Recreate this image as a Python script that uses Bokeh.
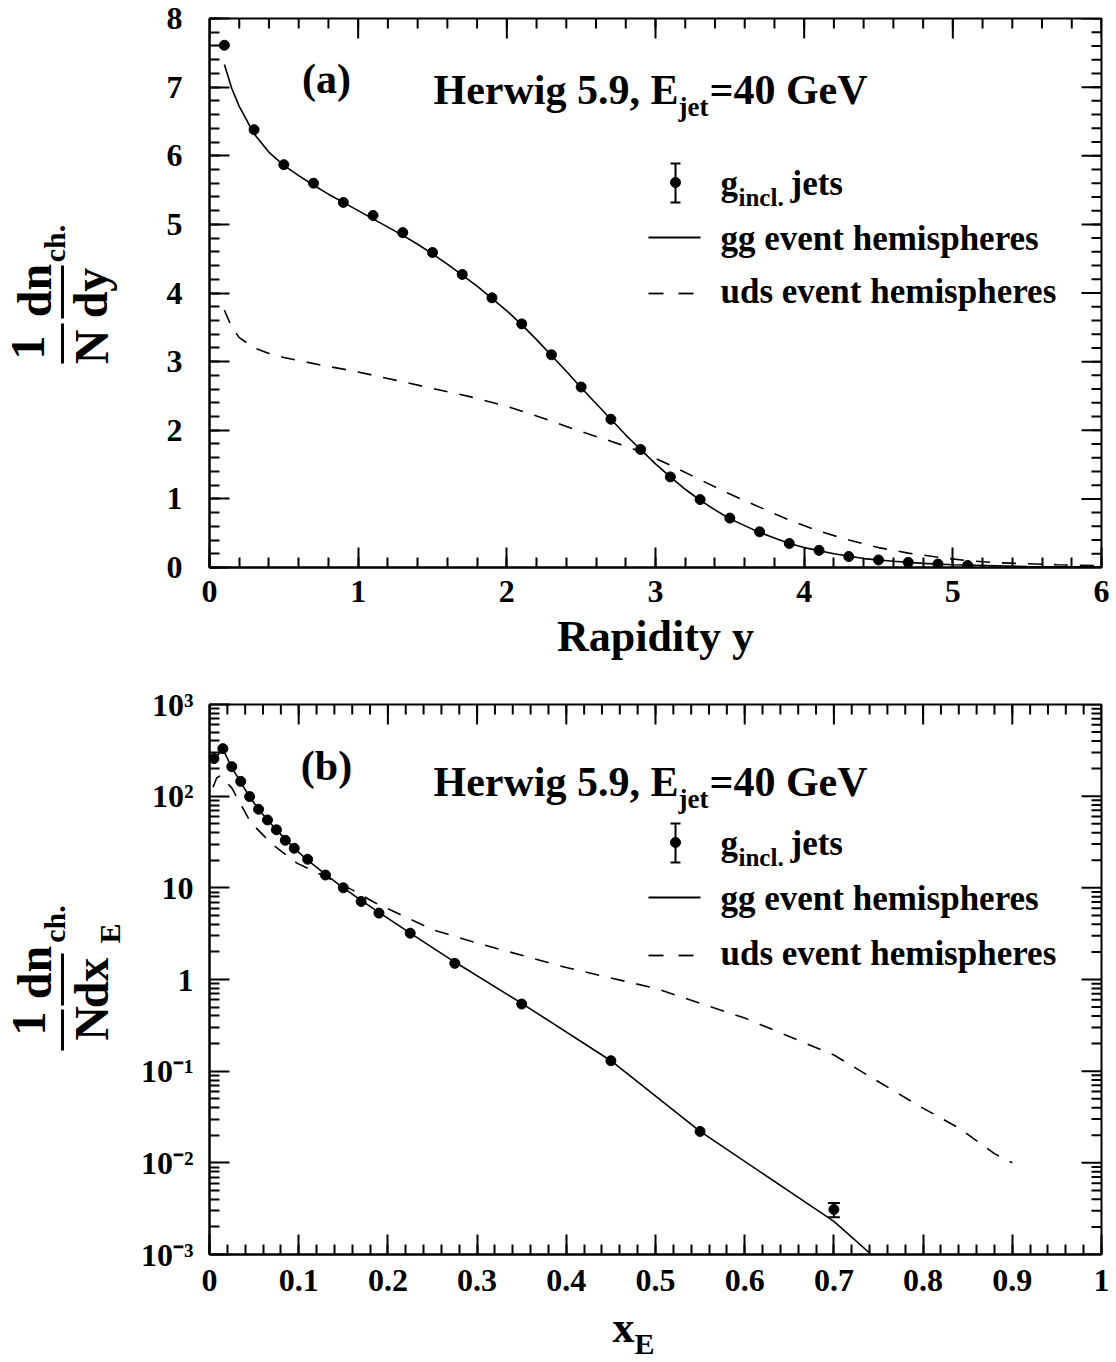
import math
from bokeh.plotting import figure
from bokeh.models import FixedTicker, Range1d, LinearScale, Label, Whisker, TeeHead, ColumnDataSource
from bokeh.core.properties import value
from bokeh.layouts import column, row
from bokeh.embed import file_html
from bokeh.resources import INLINE

FONT = "Liberation Serif"

# ---------------- panel (a): rapidity ----------------
rap_pts = [0.1, 0.3, 0.5, 0.7, 0.9, 1.1, 1.3, 1.5, 1.7, 1.9, 2.1, 2.3, 2.5,
           2.7, 2.9, 3.1, 3.3, 3.5, 3.7, 3.9, 4.1, 4.3, 4.5, 4.7, 4.9, 5.1]
gincl_rap = [7.61, 6.38, 5.87, 5.60, 5.32, 5.13, 4.88, 4.59, 4.27, 3.93, 3.55, 3.10, 2.63,
             2.16, 1.72, 1.32, 0.99, 0.72, 0.52, 0.35, 0.25, 0.16, 0.11, 0.075, 0.05, 0.03]

rap_gg = [0.1, 0.15, 0.2, 0.3, 0.4, 0.5, 0.6, 0.7, 0.8, 0.9, 1.0, 1.1, 1.2, 1.3, 1.4, 1.5,
          1.6, 1.7, 1.8, 1.9, 2.0, 2.1, 2.2, 2.3, 2.4, 2.5, 2.6, 2.7, 2.8, 2.9, 3.0, 3.1,
          3.2, 3.3, 3.4, 3.5, 3.6, 3.7, 3.8, 3.9, 4.0, 4.2, 4.4, 4.6, 4.8, 5.0, 5.5, 6.0]
gg_rap = [7.33, 6.98, 6.72, 6.32, 6.05, 5.86, 5.71, 5.57, 5.44, 5.32, 5.20, 5.08, 4.96, 4.84,
          4.71, 4.57, 4.42, 4.26, 4.10, 3.92, 3.74, 3.54, 3.32, 3.09, 2.86, 2.62, 2.39, 2.16,
          1.93, 1.72, 1.51, 1.32, 1.14, 0.98, 0.84, 0.71, 0.61, 0.51, 0.43, 0.35, 0.29, 0.20,
          0.13, 0.09, 0.06, 0.04, 0.015, 0.005]

rap_uds = [0.1, 0.15, 0.2, 0.3, 0.4, 0.5, 0.75, 1.0, 1.25, 1.5, 1.75, 2.0, 2.25, 2.5, 2.7,
           2.9, 3.1, 3.3, 3.5, 3.7, 3.9, 4.1, 4.3, 4.5, 4.7, 4.9, 5.1, 5.3, 5.5, 5.7, 6.0]
uds_rap = [3.75, 3.50, 3.35, 3.20, 3.12, 3.06, 2.95, 2.85, 2.73, 2.61, 2.49, 2.35, 2.17, 1.98,
           1.84, 1.69, 1.49, 1.28, 1.07, 0.88, 0.69, 0.53, 0.40, 0.29, 0.21, 0.15, 0.10, 0.07,
           0.055, 0.04, 0.025]

rap_xticks = [0, 1, 2, 3, 4, 5, 6]
rap_xminor = [round(i * 0.2, 1) for i in range(31)]
rap_yticks = [0, 1, 2, 3, 4, 5, 6, 7, 8]
rap_yminor = [round(i * 0.2, 1) for i in range(41)]

# ---------------- panel (b): x_E ----------------
xe_pts = [0.005, 0.015, 0.025, 0.035, 0.045, 0.055, 0.065, 0.075, 0.085, 0.095, 0.11,
          0.13, 0.15, 0.17, 0.19, 0.225, 0.275, 0.35, 0.45, 0.55, 0.70]
gincl_xe = [257, 330, 210, 145, 99, 72, 55, 43, 33, 27, 20.5,
            13.8, 10.0, 7.1, 5.3, 3.2, 1.5, 0.54, 0.13, 0.022, 0.0031]
gincl_xe_err = [0, 0, 0, 0, 0, 0, 0, 0, 0, 0, 0,
                0, 0, 0, 0, 0, 0, 0, 0, 0, 0.00055]

xe_gg = [0.005, 0.015, 0.025, 0.035, 0.045, 0.055, 0.065, 0.075, 0.085, 0.095, 0.11, 0.13,
         0.15, 0.17, 0.19, 0.225, 0.275, 0.35, 0.45, 0.55, 0.66, 0.70, 0.742]
gg_xe = [250, 325, 205, 142, 98, 72, 55, 43, 34, 27, 20, 14,
         10, 7.3, 5.4, 3.2, 1.55, 0.55, 0.13, 0.022, 0.0042, 0.0023, 0.001]

xe_uds = [0.004, 0.008, 0.012, 0.025, 0.046, 0.07, 0.098, 0.128, 0.16, 0.184, 0.25, 0.3,
          0.4, 0.5, 0.6, 0.7, 0.795, 0.84, 0.88, 0.9]
uds_xe = [125, 158, 167, 123, 52, 30, 18.6, 13.5, 9.5, 7.0, 3.5, 2.5,
          1.35, 0.8, 0.38, 0.15, 0.042, 0.024, 0.0126, 0.010]

xe_xticks = [0.0, 0.1, 0.2, 0.3, 0.4, 0.5, 0.6, 0.7, 0.8, 0.9, 1.0]
xe_xlabels = ["0", "0.1", "0.2", "0.3", "0.4", "0.5", "0.6", "0.7", "0.8", "0.9", "1"]
xe_xminor = [round(i * 0.02, 2) for i in range(51)]
xe_decades = [1e3, 1e2, 1e1, 1e0, 1e-1, 1e-2, 1e-3]
xe_dec_labels = ["10\u00b3", "10\u00b2", "10", "1", "10\u207b\u00b9", "10\u207b\u00b2", "10\u207b\u00b3"]
xe_yminor = [k * 10.0 ** d for d in range(-3, 3) for k in range(2, 10)]

legend_texts = ["g", "incl.", "jets", "gg event hemispheres", "uds event hemispheres"]
title_text = ["Herwig 5.9, E", "jet", "=40 GeV"]

FW, FH1, FH2 = 892, 549, 550
SW = 134          # width of the strip left of each panel
TOTAL_W = 1112


def style_axis(ax, size="32px", standoff=6):
    ax.axis_line_width = 2
    ax.axis_line_color = "black"
    ax.major_tick_in = 20
    ax.major_tick_out = 0
    ax.minor_tick_in = 10
    ax.minor_tick_out = 0
    ax.major_tick_line_width = 2
    ax.minor_tick_line_width = 2
    ax.major_tick_line_color = "black"
    ax.minor_tick_line_color = "black"
    ax.major_label_text_font = FONT
    ax.major_label_text_font_style = "bold"
    ax.major_label_text_color = "black"
    ax.major_label_text_font_size = size
    ax.major_label_standoff = standoff


def lab(p, text, x, y, size, align="left", baseline="middle", xr="default", yr="default"):
    p.add_layout(Label(x=x, y=y, text=text, x_range_name=xr, y_range_name=yr,
                       text_font=FONT, text_font_style="bold", text_font_size=f"{size}px",
                       text_align=align, text_baseline=baseline, text_color="black"))


def vtext(p, texts, xs, ys, size):
    # rotated (reading upward) text pieces of the y-axis titles
    p.text(x=xs, y=ys, text=texts, angle=math.pi / 2, text_align="center",
           text_baseline="middle", text_font=value(FONT), text_font_style="bold",
           text_font_size=f"{size}px", text_color="black")


def add_px(p, fh):
    p.extra_x_ranges = {"px": Range1d(0, FW)}
    p.extra_y_ranges = {"px": Range1d(0, fh)}
    p.extra_x_scales = {"px": LinearScale()}
    p.extra_y_scales = {"px": LinearScale()}


def mirror_ticks(p, xmaj, xmin, ymaj, ymin, xtop, yright):
    # inward ticks on the top and right frame edges
    p.ray(x=xmaj, y=[xtop] * len(xmaj), length=20, length_units="screen", angle=-math.pi / 2,
          line_width=2, line_color="black")
    p.ray(x=xmin, y=[xtop] * len(xmin), length=10, length_units="screen", angle=-math.pi / 2,
          line_width=2, line_color="black")
    p.ray(x=[yright] * len(ymaj), y=ymaj, length=20, length_units="screen", angle=math.pi,
          line_width=2, line_color="black")
    p.ray(x=[yright] * len(ymin), y=ymin, length=10, length_units="screen", angle=math.pi,
          line_width=2, line_color="black")


def legend(p, y_err, y_solid, y_dash):
    xs = 466
    kw = dict(x_range_name="px", y_range_name="px", line_color="black")
    p.segment(x0=[xs], y0=[y_err - 20], x1=[xs], y1=[y_err + 19], line_width=2, **kw)
    p.segment(x0=[xs - 5, xs - 5], y0=[y_err - 20, y_err + 19], x1=[xs + 5, xs + 5],
              y1=[y_err - 20, y_err + 19], line_width=2, **kw)
    p.scatter(x=[xs], y=[y_err], size=10, color="black", x_range_name="px", y_range_name="px")
    p.segment(x0=[439], y0=[y_solid], x1=[491], y1=[y_solid], line_width=1.8, **kw)
    p.segment(x0=[439, 469], y0=[y_dash, y_dash], x1=[454, 484], y1=[y_dash, y_dash],
              line_width=1.8, **kw)
    lab(p, legend_texts[0], 511, y_err - 1, 35, xr="px", yr="px")
    lab(p, legend_texts[1], 529, y_err - 15, 25, xr="px", yr="px")
    lab(p, legend_texts[2], 581, y_err - 1, 35, xr="px", yr="px")
    lab(p, legend_texts[3], 511, y_solid - 1, 35, xr="px", yr="px")
    lab(p, legend_texts[4], 511, y_dash + 2, 35, xr="px", yr="px")


def title(p, y_mid):
    lab(p, title_text[0], 224, y_mid, 42, xr="px", yr="px")
    lab(p, title_text[1], 469, y_mid - 17, 27, xr="px", yr="px")
    lab(p, title_text[2], 500, y_mid, 42, xr="px", yr="px")


def strip(w, h, yspan):
    # a plain drawing area; in a row its frame lines up with the neighbour's frame
    s = figure(width=w, height=h, x_range=Range1d(0, w), y_range=Range1d(0, yspan),
               x_axis_location=None, y_axis_location=None, min_border=0,
               output_backend="svg", toolbar_location=None,
               background_fill_color="white", border_fill_color="white")
    s.outline_line_color = None
    s.grid.visible = False
    return s


# ================= panel (a) =================
p1 = figure(frame_width=FW, frame_height=FH1, x_range=Range1d(0, 6), y_range=Range1d(0, 8),
            output_backend="svg", toolbar_location=None,
            min_border_left=209 - SW, min_border_right=TOTAL_W - 209 - FW,
            min_border_top=18, min_border_bottom=113,
            background_fill_color="white", border_fill_color="white")
p1.grid.visible = False
p1.outline_line_color = "black"
p1.outline_line_width = 2
add_px(p1, FH1)

p1.xaxis.ticker = FixedTicker(ticks=rap_xticks, minor_ticks=rap_xminor)
p1.yaxis.ticker = FixedTicker(ticks=rap_yticks, minor_ticks=rap_yminor)
style_axis(p1.xaxis[0], "32px", 13)
style_axis(p1.yaxis[0], "32px", 27)
p1.xaxis.axis_label = "Rapidity y"
p1.xaxis.axis_label_text_font = FONT
p1.xaxis.axis_label_text_font_style = "bold"
p1.xaxis.axis_label_text_font_size = "44px"
p1.xaxis.axis_label_text_color = "black"
p1.xaxis.axis_label_standoff = 7
mirror_ticks(p1, rap_xticks, rap_xminor, rap_yticks, rap_yminor, 8, 6)

p1.line(rap_uds, uds_rap, line_color="black", line_width=1.6, line_dash="14 12")
p1.line(rap_gg, gg_rap, line_color="black", line_width=1.6)
p1.scatter(rap_pts, gincl_rap, size=10, color="black")

lab(p1, "(a)", 117, 489, 42, align="center", xr="px", yr="px")
title(p1, 478)
legend(p1, 385, 330, 274)

# y-axis title: 1/N dn_ch./dy  (x from strip left, y from frame bottom)
s1 = strip(SW, 680, FH1)
vtext(s1, ["1", "dn", "N", "dy"], [27.5, 33.5, 90.5, 90.0], [220, 277, 220.5, 274.5], 48)
vtext(s1, ["ch."], [53.5], [324], 30)
s1.segment(x0=[62, 62], y0=[204, 249], x1=[62, 62], y1=[244, 302], line_width=3, line_color="black")

# ================= panel (b) =================
p2 = figure(frame_width=FW, frame_height=FH2, x_range=Range1d(0, 1), y_range=Range1d(1e-3, 1e3),
            y_axis_type="log", output_backend="svg", toolbar_location=None,
            min_border_left=209 - SW, min_border_right=TOTAL_W - 209 - FW,
            min_border_top=24, min_border_bottom=46,
            background_fill_color="white", border_fill_color="white")
p2.grid.visible = False
p2.outline_line_color = "black"
p2.outline_line_width = 2
add_px(p2, FH2)

p2.xaxis.ticker = FixedTicker(ticks=xe_xticks, minor_ticks=xe_xminor)
p2.xaxis.major_label_overrides = dict(zip(xe_xticks, xe_xlabels))
p2.yaxis.ticker = FixedTicker(ticks=xe_decades, minor_ticks=xe_yminor)
p2.yaxis.major_label_overrides = dict(zip(xe_decades, xe_dec_labels))
style_axis(p2.xaxis[0], "32px", 15)
style_axis(p2.yaxis[0], "32px", 16)
mirror_ticks(p2, xe_xticks, xe_xminor, xe_decades, xe_yminor, 1e3, 1.0)

p2.line(xe_uds, uds_xe, line_color="black", line_width=1.6, line_dash="14 12")
p2.line(xe_gg, gg_xe, line_color="black", line_width=1.6)
err_idx = [i for i, e in enumerate(gincl_xe_err) if e > 0]
err_src = ColumnDataSource(data=dict(
    x=[xe_pts[i] for i in err_idx],
    upper=[gincl_xe[i] + gincl_xe_err[i] for i in err_idx],
    lower=[gincl_xe[i] - gincl_xe_err[i] for i in err_idx]))
p2.add_layout(Whisker(source=err_src, base="x", upper="upper", lower="lower",
                      dimension="height", line_width=2, line_color="black",
                      upper_head=TeeHead(size=12, line_width=2, line_color="black"),
                      lower_head=TeeHead(size=12, line_width=2, line_color="black")))
p2.scatter(xe_pts, gincl_xe, size=10, color="black")

lab(p2, "(b)", 117, 489, 42, align="center", xr="px", yr="px")
title(p2, 473)
legend(p2, 412, 357, 299)

# y-axis title: 1/N dn_ch./dx_E
s2 = strip(SW, 620, FH2)
vtext(s2, ["1", "dn", "N", "dx"], [28, 33.5, 90.5, 91.0], [231, 282, 231, 271.5], 48)
vtext(s2, ["ch.", "E"], [53.5, 109], [330.5, 321], 30)
s2.segment(x0=[62, 62], y0=[204, 249], x1=[62, 62], y1=[245, 301], line_width=3, line_color="black")

# x-axis title x_E under panel (b)
s3 = strip(TOTAL_W, 60, 60)
lab(s3, "x", 612, 33, 44)
lab(s3, "E", 634, 17, 30)

layout = column(row(s1, p1), row(s2, p2), s3)
open("out.html", "w").write(file_html(layout, INLINE))
